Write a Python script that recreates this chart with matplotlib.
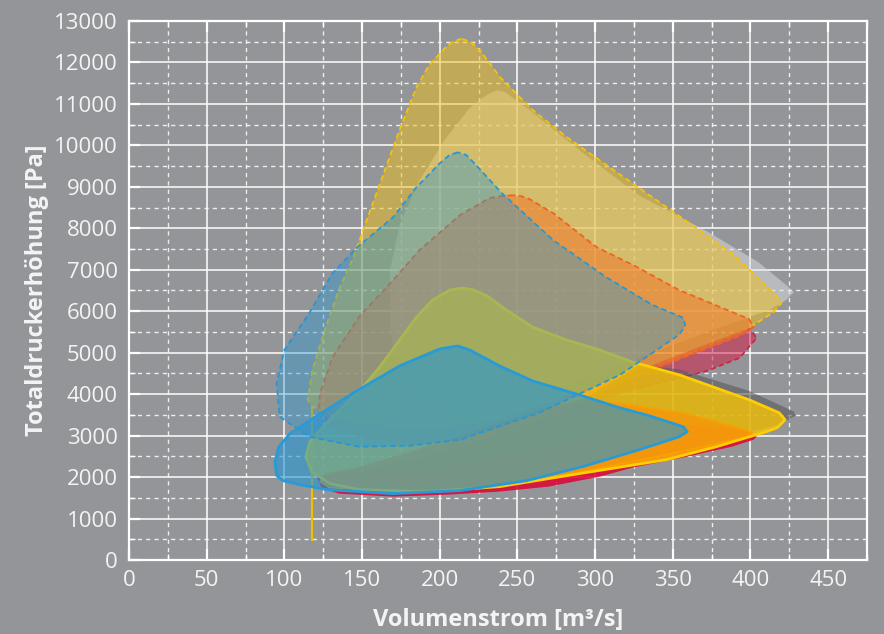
import matplotlib
matplotlib.use("Agg")
import matplotlib.pyplot as plt
from matplotlib.ticker import MultipleLocator

plt.rcParams['font.family'] = ['Open Sans', 'DejaVu Sans']

# ---- operating-range envelopes: volume flow [m3/s] / total pressure rise [Pa] ----
# upper (high-pressure) ranges
q_silver = [232, 237, 242, 245, 258, 290, 328, 373, 405, 423, 428, 423, 412, 367, 316, 264, 219, 193, 174, 168, 168, 174, 187, 203, 219, 227]
p_silver = [11253, 11325, 11285, 11204, 10844, 9881, 8798, 7907, 7185, 6631, 6463, 6270, 6029, 5428, 4706, 3983, 3622, 3743, 4345, 5548, 6992, 8076, 9159, 10122, 10892, 11130]

q_gold = [214, 207.6, 203, 193, 185, 174, 163, 153, 145, 135, 126, 118, 115, 118, 135, 168, 206, 238, 264, 316, 367, 399, 415, 420, 417, 388, 346, 303, 282, 260, 239, 226, 220.5]
p_gold = [12577, 12480, 12336, 11927, 11397, 10362, 9231, 8196, 7354, 6511, 5548, 4585, 3863, 3695, 3430, 3189, 3189, 3382, 3743, 4393, 5067, 5596, 5981, 6198, 6367, 7402, 8509, 9640, 10194, 10844, 11638, 12288, 12480]
q_gold_stem = [117.6, 117.6]
p_gold_stem = [493, 3700]

q_red_hi = [122, 129, 148, 187, 226, 277, 328, 350, 372, 393, 404, 399, 354, 303, 238, 174, 129]
p_red_hi = [3622, 3262, 2973, 2780, 2900, 3502, 4152, 4345, 4561, 4874, 5356, 5596, 4947, 4224, 3382, 3021, 3382]

q_orange_hi = [247, 238, 232, 213, 187, 170, 148, 131, 123, 122, 129, 148, 187, 226, 292, 350, 393, 402, 399, 354, 327, 301, 273, 258, 252]
p_orange_hi = [8798, 8770, 8730, 8317, 7474, 6752, 5861, 4898, 4032, 3622, 3262, 2973, 2780, 2948, 3863, 4778, 5404, 5620, 5813, 6511, 7065, 7546, 8365, 8700, 8780]

q_blue_hi = [211.5, 206, 200, 185, 170, 147, 131, 116, 100, 95, 97, 116, 148, 180, 213, 264, 316, 354, 358, 357, 337, 307, 273, 240, 224, 217]
p_blue_hi = [9833, 9760, 9568, 8990, 8268, 7546, 6920, 5957, 5067, 4272, 3454, 2973, 2732, 2756, 2900, 3550, 4465, 5428, 5644, 5837, 6150, 6824, 7715, 8846, 9500, 9770]

# lower (low-pressure) ranges
q_grey_lo = [428, 399, 354, 328, 303, 264, 206, 142, 123, 129, 174, 238, 303, 367, 418, 429]
p_grey_lo = [3580, 4080, 4600, 4700, 4104, 3381, 2649, 2046, 1938, 1697, 1553, 1697, 2178, 2780, 3262, 3480]

q_red_lo = [404, 399, 367, 316, 264, 212, 161, 129, 121, 124, 135, 170, 206, 238, 270, 303, 324, 356, 388, 402]
p_red_lo = [2973, 3117, 3262, 3141, 2660, 2299, 2058, 2106, 1986, 1745, 1601, 1528, 1577, 1649, 1769, 2010, 2227, 2467, 2732, 2900]

q_orange_lo = [401, 393, 356, 314, 292, 264, 226, 187, 148, 126, 123, 129, 174, 238, 281, 314, 346, 378, 398]
p_orange_lo = [3069, 3189, 3550, 3791, 3863, 3622, 3141, 2660, 2226, 2058, 1890, 1745, 1649, 1769, 2058, 2299, 2539, 2804, 2973]

q_yellow_lo = [214.7, 222, 230, 243, 259.7, 281.6, 302.8, 324, 354.2, 399.2, 418.5, 422.3, 417.2, 410.1, 378, 345.9, 313.7, 281.6, 238.5, 193.5, 148.5, 129.2, 117.6, 113.8, 116.4, 126, 138.9, 151.7, 161.4, 174.2, 185.1, 195.4, 206.4]
p_yellow_lo = [6559, 6510, 6380, 6029, 5620, 5308, 5067, 4778, 4465, 3863, 3550, 3382, 3189, 3093, 2732, 2419, 2226, 2034, 1769, 1649, 1697, 1841, 2130, 2491, 2852, 3262, 3743, 4224, 4658, 5308, 5861, 6270, 6511]

q_blue_lo = [211.5, 200, 174.2, 146.6, 120.9, 103.5, 96.4, 93.9, 95.1, 99, 109.9, 127.3, 169.7, 212.8, 255.9, 291.9, 328.5, 354.2, 359.3, 356.8, 334.9, 313.7, 291.9, 259.7, 238.5, 219.2]
p_blue_lo = [5163, 5091, 4682, 4080, 3478, 3045, 2732, 2371, 2034, 1914, 1817, 1697, 1601, 1673, 1914, 2251, 2660, 2973, 3093, 3213, 3478, 3695, 3959, 4320, 4682, 5067]

x_ticks = [0, 50, 100, 150, 200, 250, 300, 350, 400, 450]
y_ticks = list(range(0, 13001, 1000))

BG = '#939598'
DASH = (0, (3, 2))

fig = plt.figure(figsize=(8.84, 6.34), dpi=100, facecolor=BG)
ax = fig.add_axes([129 / 884, 74 / 634, 738 / 884, 539 / 634])
ax.set_facecolor(BG)


def area(q, p, face, alpha, edge=None, lw=0.0, ls='-', z=2):
    ax.fill(q, p, facecolor=face, alpha=alpha, edgecolor='none', zorder=z)
    if edge is not None:
        ax.fill(q + q[:1], p + p[:1], facecolor='none', edgecolor=edge,
                linewidth=lw, linestyle=ls, joinstyle='round', zorder=z + 0.01)


# high-pressure envelopes
area(q_silver, p_silver, '#dedfe2', 0.5, z=2.0)
area(q_gold, p_gold, '#f0be1e', 0.5, '#f5c400', 1.3, DASH, z=2.1)
ax.plot(q_gold_stem, p_gold_stem, color='#f0c000', lw=1.6, zorder=2.15)
area(q_red_hi, p_red_hi, '#d71946', 0.5, z=2.2)
area(q_orange_hi, p_orange_hi, '#f07828', 0.55, '#ee6420', 1.3, DASH, z=2.3)
ax.plot(q_red_hi[6:12], p_red_hi[6:12], color='#d21e46', lw=1.2, linestyle=DASH, zorder=2.25)

# low-pressure envelopes
area(q_grey_lo, p_grey_lo, '#5a5a5c', 0.6, z=3.0)
area(q_red_lo, p_red_lo, '#dc0a3c', 0.9, z=3.1)
area(q_yellow_lo, p_yellow_lo, '#fcc800', 0.75, z=3.2)
area(q_orange_lo, p_orange_lo, '#f5960a', 0.8, '#faa000', 1.2, z=3.3)
ax.fill(q_yellow_lo + q_yellow_lo[:1], p_yellow_lo + p_yellow_lo[:1], facecolor='none',
        edgecolor='#ffcd00', linewidth=2.0, joinstyle='round', zorder=3.4)

area(q_blue_hi, p_blue_hi, '#2896d2', 0.4, '#2896d2', 1.3, DASH, z=3.5)
area(q_blue_lo, p_blue_lo, '#2896d2', 0.62, '#289bd7', 2.0, z=3.6)

# axes, grid and labels
ax.set_xlim(0, 475)
ax.set_ylim(0, 13000)
ax.set_xticks(x_ticks)
ax.set_yticks(y_ticks)
ax.xaxis.set_minor_locator(MultipleLocator(25))
ax.yaxis.set_minor_locator(MultipleLocator(500))
ax.set_axisbelow(True)
ax.grid(which='major', color='white', linewidth=1.3, alpha=0.85, zorder=1)
ax.grid(which='minor', color='white', linewidth=1.0, linestyle=(0, (3, 3)), alpha=0.85, zorder=1)
for s in ax.spines.values():
    s.set_color('white')
    s.set_linewidth(1.6)
ax.tick_params(which='both', direction='in', colors='white', top=True, right=False)
ax.tick_params(which='major', length=8, width=1.6, labelsize=16, labelcolor='#f4f4f4')
ax.tick_params(which='minor', length=4, width=1.0)
ax.tick_params(axis='y', which='major', pad=8)
ax.tick_params(axis='x', which='major', pad=7)

ax.set_xlabel('Volumenstrom [m³/s]', fontsize=17, fontweight='bold', color='#f4f4f4')
ax.set_ylabel('Totaldruckerhöhung [Pa]', fontsize=17, fontweight='bold', color='#f4f4f4')
ax.xaxis.set_label_coords(0.5, -0.089)
ax.yaxis.set_label_coords(-0.108, 0.5)

fig.savefig('out.png', dpi=100, facecolor=BG)
